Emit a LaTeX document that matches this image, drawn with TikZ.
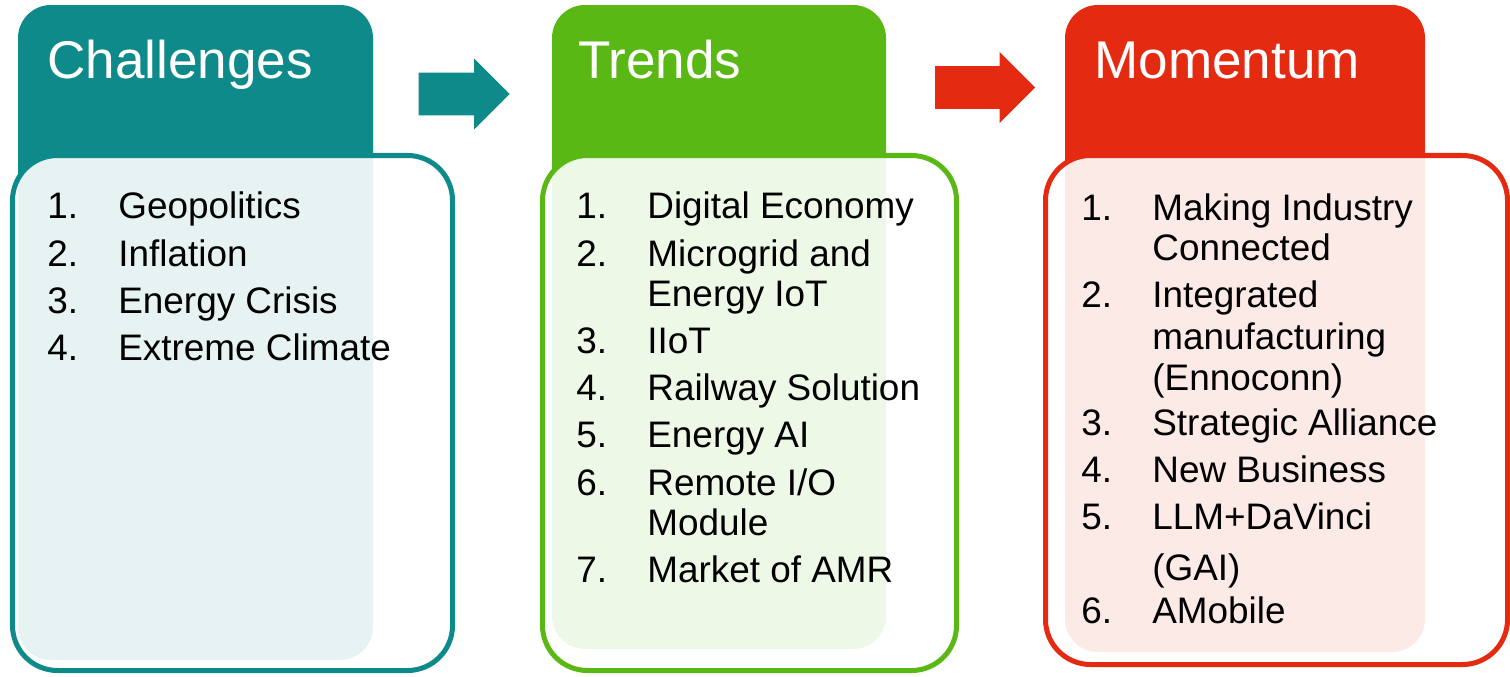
\documentclass[tikz,border=0pt]{standalone}
\usepackage{fontspec}
\setmainfont{Liberation Sans}
\usetikzlibrary{shapes.arrows, positioning}

\definecolor{tealc}{HTML}{0E8A8B}
\definecolor{greenc}{HTML}{5AB814}
\definecolor{redc}{HTML}{E52A12}

\begin{document}
\begin{tikzpicture}[x=0.02cm, y=-0.02cm,
  title node/.style={anchor=base west, inner sep=0pt, text=white, font=\fontsize{30.2pt}{36pt}\selectfont},
  item node/.style={anchor=base west, inner sep=0pt, font=\fontsize{21pt}{23pt}\selectfont},
  head box/.style={rounded corners=0.66cm},
  list box/.style={rounded corners=0.9cm, line width=2.85pt, fill=white, fill opacity=0.9, draw opacity=1},
  blk arrow/.style={single arrow, draw=none, inner sep=0pt, single arrow head extend=0.28cm,
    text height=0.84cm, text depth=0pt, anchor=tip}]
  \useasboundingbox (0,0) rectangle (1510,676);

  % Challenges
  \fill[tealc, head box] (18,5) rectangle (373,660);
  \draw[tealc, list box] (12.5,155.5) rectangle (452.5,670.5);
  \node[title node] (chal) at (47,78) {Challenges};
  \foreach \y/\n/\t [count=\i] in {218/1./Geopolitics, 266/2./Inflation,
      313/3./Energy Crisis, 360/4./Extreme Climate}
  {
    \node[item node] (cn\i) at (47,\y) {\n};
    \node[item node] (ct\i) at (118,\y) {\t};
  }

  % Trends
  \fill[greenc, head box] (552,5) rectangle (886,649);
  \draw[greenc, list box] (542.5,155.5) rectangle (956.5,670.5);
  \node[title node] (trend) at (578,78) {Trends};
  \foreach \y/\n/\t [count=\i] in {218/1./Digital Economy, 266/2./Microgrid and,
      306//Energy IoT, 353/3./IIoT, 400/4./Railway Solution, 447/5./Energy AI,
      495/6./{Remote I/O}, 535//Module, 582/7./Market of AMR}
  {
    \node[item node] (tn\i) at (576,\y) {\n};
    \node[item node] (tt\i) at (647,\y) {\t};
  }

  % Momentum
  \fill[redc, head box] (1065,5) rectangle (1425,652);
  \draw[redc, list box] (1045.5,155.5) rectangle (1507.5,664.5);
  \node[title node] (mom) at (1094,78) {Momentum};
  \foreach \y/\n/\t [count=\i] in {220/1./Making Industry, 260//Connected,
      307/2./Integrated, 349//manufacturing, 390//(Ennoconn),
      435/3./Strategic Alliance, 482/4./New Business, 529/5./LLM+DaVinci,
      580//(GAI), 623/6./AMobile}
  {
    \node[item node] (mn\i) at (1081,\y) {\n};
    \node[item node] (mt\i) at (1152,\y) {\t};
  }

  % arrows
  \node[blk arrow, fill=tealc, minimum height=1.82cm] (arr1) at (510,94) {};
  \node[blk arrow, fill=redc, minimum height=2cm] (arr2) at (1035.5,87.5) {};
\end{tikzpicture}
\end{document}
